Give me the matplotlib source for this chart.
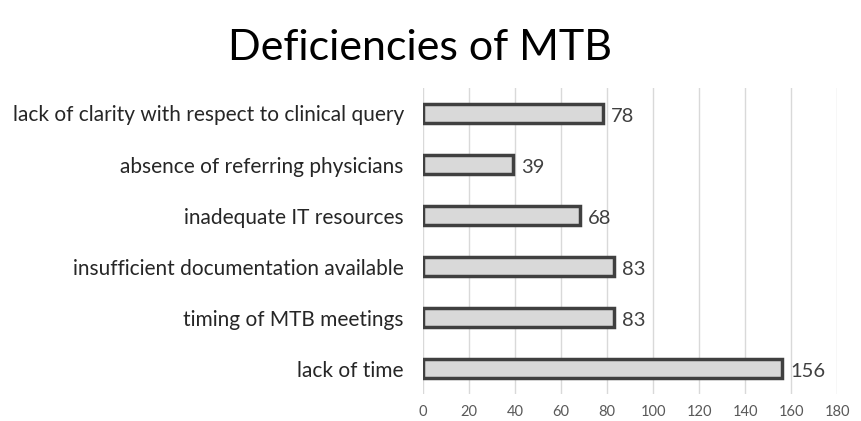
import matplotlib.pyplot as plt

plt.rcParams["font.family"] = ["Lato", "DejaVu Sans"]

categories = [
    "lack of time",
    "timing of MTB meetings",
    "insufficient documentation available",
    "inadequate IT resources",
    "absence of referring physicians",
    "lack of clarity with respect to clinical query",
]
values = [156, 83, 83, 68, 39, 78]
xticks = list(range(0, 181, 20))

fig = plt.figure(figsize=(8.62, 4.21), dpi=100)
ax = fig.add_axes([0.491, 0.064, 0.48, 0.727])

bars = ax.barh(categories, values, height=0.36, color="#d9d9d9",
               edgecolor="#404040", linewidth=2.5, zorder=3)
for bar, v in zip(bars, values):
    ax.text(bar.get_width() + 3.5, bar.get_y() + bar.get_height() / 2 - 0.05, str(v),
            va="center", ha="left", fontsize=14.5, color="#404040")

ax.set_xlim(0, 180)
ax.set_ylim(-0.5, len(categories) - 0.5)
ax.set_xticks(xticks)
ax.grid(axis="x", color="#d9d9d9", linewidth=1, zorder=0)
for s in ax.spines.values():
    s.set_visible(False)
ax.tick_params(axis="x", length=0, labelsize=10.5, labelcolor="#595959", pad=8)
ax.tick_params(axis="y", length=0, labelsize=15, labelcolor="#262626", pad=14)

fig.text(0.487, 0.885, "Deficiencies of MTB", ha="center", va="center",
         fontsize=31, color="#000000")

fig.savefig("out.png", dpi=100)
